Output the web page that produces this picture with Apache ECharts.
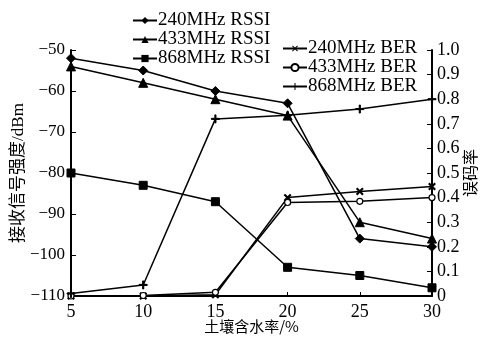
<!DOCTYPE html>
<html>
<head>
<meta charset="utf-8">
<script src="https://cdn.jsdelivr.net/npm/echarts@6/dist/echarts.min.js"></script>
<style>
  html, body { margin: 0; padding: 0; background: #fff; }
  #chart { width: 483px; height: 340px; }
</style>
</head>
<body>
<div id="chart"></div>
<script>
// 土壤含水率 (%)
var moisture = [5, 10, 15, 20, 25, 30];

// 接收信号强度 dBm
var rssi240 = [-52, -55, -60, -63, -96, -98];
var rssi433 = [-54, -58, -62, -66, -92, -96];
var rssi868 = [-80, -83, -87, -103, -105, -108];

// 误码率
var ber240 = [0, 0, 0.005, 0.40, 0.425, 0.445];
var ber433 = [0, 0.002, 0.015, 0.38, 0.385, 0.40];
var ber868 = [0.01, 0.045, 0.72, 0.735, 0.76, 0.80];

var serifFont = "'Liberation Serif', 'Noto Sans CJK SC', serif";
var plusPath = "path://M4.3,0H5.7V4.3H10V5.7H5.7V10H4.3V5.7H0V4.3H4.3Z";

function pairs(ys) {
  return moisture.map(function (x, i) { return [x, ys[i]]; });
}

function makeSeries(name, ys, yIdx, symbol, size, extra) {
  var s = {
    name: name,
    type: "line",
    yAxisIndex: yIdx,
    data: pairs(ys),
    symbol: symbol,
    symbolSize: size,
    lineStyle: { color: "#000", width: 1.5 },
    itemStyle: { color: "#000", borderColor: "#000" },
    animation: false
  };
  return Object.assign(s, extra || {});
}

var legendText = { fontFamily: serifFont, fontSize: 19, lineHeight: 19, color: "#000", padding: [0, 0, 0, -4] };

var chart = echarts.init(document.getElementById("chart"));

var option = {
  backgroundColor: "#fff",
  textStyle: { fontFamily: serifFont, color: "#000" },
  grid: { left: 71, right: 51, top: 50, bottom: 44, containLabel: false, outerBoundsMode: "none" },
  legend: [
    {
      data: ["240MHz RSSI", "433MHz RSSI", "868MHz RSSI"],
      orient: "vertical",
      left: 132,
      top: 11,
      padding: 0,
      itemGap: 0,
      itemWidth: 24,
      itemHeight: 9,
      textStyle: legendText
    },
    {
      data: ["240MHz BER", "433MHz BER", "868MHz BER"],
      orient: "vertical",
      left: 282,
      top: 39,
      padding: 0,
      itemGap: 0,
      itemWidth: 24,
      itemHeight: 9,
      textStyle: legendText
    }
  ],
  xAxis: {
    type: "value",
    min: 5,
    max: 30,
    interval: 5,
    name: "土壤含水率/%",
    nameLocation: "middle",
    nameGap: 23,
    nameMoveOverlap: false,
    nameTextStyle: { fontFamily: "'Noto Sans CJK SC'", fontSize: 15, color: "#000", verticalAlign: "top" },
    axisLine: { lineStyle: { color: "#000", width: 2 } },
    axisTick: { inside: true, length: 4, lineStyle: { color: "#000" } },
    axisLabel: { fontFamily: serifFont, fontSize: 18, color: "#000", margin: 7 },
    splitLine: { show: false }
  },
  yAxis: [
    {
      type: "value",
      min: -110,
      max: -50,
      interval: 10,
      name: "接收信号强度/dBm",
      nameLocation: "middle",
      nameGap: 44,
      nameMoveOverlap: false,
      nameTextStyle: { fontFamily: serifFont, fontSize: 17, color: "#000" },
      axisLine: { show: true, lineStyle: { color: "#000", width: 2 } },
      axisTick: { show: true, inside: true, length: 5, lineStyle: { color: "#000" } },
      axisLabel: {
        fontFamily: serifFont, fontSize: 17, color: "#000", margin: 6,
        formatter: function (v) { return v < 0 ? "\u2212" + Math.abs(v) : String(v); }
      },
      splitLine: { show: false }
    },
    {
      type: "value",
      min: 0,
      max: 1,
      interval: 0.1,
      position: "right",
      name: "误码率",
      nameLocation: "middle",
      nameGap: 30,
      nameMoveOverlap: false,
      nameRotate: 90,
      nameTextStyle: { fontFamily: "'Noto Sans CJK SC'", fontSize: 16, color: "#000" },
      axisLine: { show: true, lineStyle: { color: "#000", width: 2 } },
      axisTick: { show: true, inside: true, length: 5, lineStyle: { color: "#000" } },
      axisLabel: {
        fontFamily: serifFont, fontSize: 18, color: "#000", margin: 5,
        formatter: function (v) { return v === 0 ? "0" : v.toFixed(1); }
      },
      splitLine: { show: false }
    }
  ],
  series: [
    makeSeries("240MHz RSSI", rssi240, 0, "diamond", 9),
    makeSeries("433MHz RSSI", rssi433, 0, "triangle", 9),
    makeSeries("868MHz RSSI", rssi868, 0, "rect", 8),
    makeSeries("240MHz BER", ber240, 1, plusPath, 8, { symbolRotate: 45 }),
    makeSeries("433MHz BER", ber433, 1, "circle", 6, {
      itemStyle: { color: "#fff", borderColor: "#000", borderWidth: 1.2 }
    }),
    makeSeries("868MHz BER", ber868, 1, plusPath, 8)
  ]
};

chart.setOption(option);
window.onresize = chart.resize;
</script>
</body>
</html>
